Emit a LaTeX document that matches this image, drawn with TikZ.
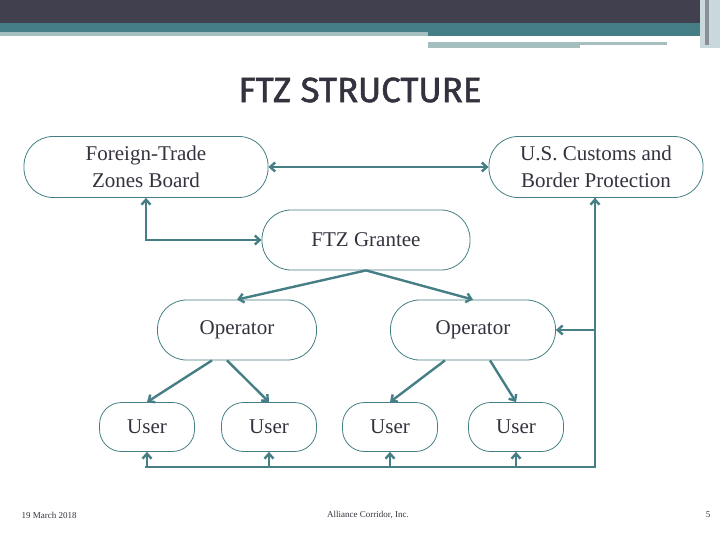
\documentclass[tikz,border=0pt]{standalone}
\usepackage{fontspec}
\setmainfont{Liberation Serif}
\newfontfamily\titlefont[FakeBold=1.5]{Fira Sans}
\usetikzlibrary{arrows.meta}
\definecolor{dark}{HTML}{40404F}
\definecolor{teal1}{HTML}{457F85}
\definecolor{lteal}{HTML}{A5BFC1}
\definecolor{txt}{HTML}{33333F}
\tikzset{
 box/.style={draw=teal1,line width=0.8pt,rounded corners=29pt,align=center,text=txt,font=\fontsize{21}{27}\selectfont,inner sep=0pt},
 conn/.style={draw=teal1,line width=2.4pt,-{Straight Barb[length=5pt,width=9pt]}},
 bconn/.style={conn,{Straight Barb[length=5pt,width=9pt]}-{Straight Barb[length=5pt,width=9pt]}}
}
\begin{document}
\begin{tikzpicture}[x=1pt,y=-1pt]
\useasboundingbox (0,0) rectangle (720,540);
\fill[white] (0,0) rectangle (720,540);
\fill[dark] (0,0) rectangle (720,23);
\fill[teal1] (0,23) rectangle (720,32);
\fill[lteal] (0,32) rectangle (428,36);
\fill[teal1] (428,32) rectangle (705,36);
\fill[lteal] (428,42) rectangle (667,45);
\fill[lteal] (428,45) rectangle (580,48);
\fill[lteal!60] (700,0) rectangle (720,48);
\fill[dark!60] (705,0) rectangle (709,45);
\node[text=txt,font=\titlefont\fontsize{35}{40}\selectfont] (title) at (360,90) {FTZ STRUCTURE};
\node[box,minimum width=244pt,minimum height=61pt] (board) at (146,167) {Foreign-Trade\\Zones Board};
\node[box,minimum width=214pt,minimum height=61pt] (cbp) at (596,167) {U.S. Customs and\\Border Protection};
\node[box,minimum width=208pt,minimum height=60pt] (grantee) at (366,240) {FTZ Grantee};
\node[box,minimum width=159pt,minimum height=60pt] (opl) at (237,330) {Operator};
\node[box,minimum width=165pt,minimum height=60pt] (opr) at (473,330) {Operator};
\foreach \n/\x in {u1/147,u2/269,u3/390,u4/516}
  \node[box,rounded corners=22pt,minimum width=95pt,minimum height=49pt] (\n) at (\x,427) {User};
\draw[bconn] (board.east) -- (cbp.west);
\draw[bconn] (board.south) |- (grantee.west);
\draw[conn] (grantee.south) -- (opl.north);
\draw[conn] (grantee.south) -- (opr.north);
\draw[conn] ([xshift=-25pt]opl.south) -- (u1.north);
\draw[conn] ([xshift=-10pt]opl.south) -- (u2.north);
\draw[conn] ([xshift=-28pt]opr.south) -- (u3.north);
\draw[conn] ([xshift=17pt]opr.south) -- (u4.north);
\coordinate (bl) at (145,467);
\coordinate (br) at (595,467);
\draw[teal1,line width=2.4pt] (bl) -- (br) -- (cbp.south -| br);
\draw[conn] (br |- opr.east) -- (opr.east);
\draw[conn] (br) -- (cbp.south -| br);
\foreach \n in {u1,u2,u3,u4} \draw[conn] (\n.south |- bl) -- (\n.south);
\node[text=txt,font=\fontsize{9}{10}\selectfont,anchor=west] (date) at (18,515) {19 March 2018};
\node[text=txt,font=\fontsize{9}{10}\selectfont] (co) at (368,515) {Alliance Corridor, Inc.};
\node[text=txt,font=\fontsize{9}{10}\selectfont] (pg) at (708,515) {5};
\end{tikzpicture}
\end{document}
